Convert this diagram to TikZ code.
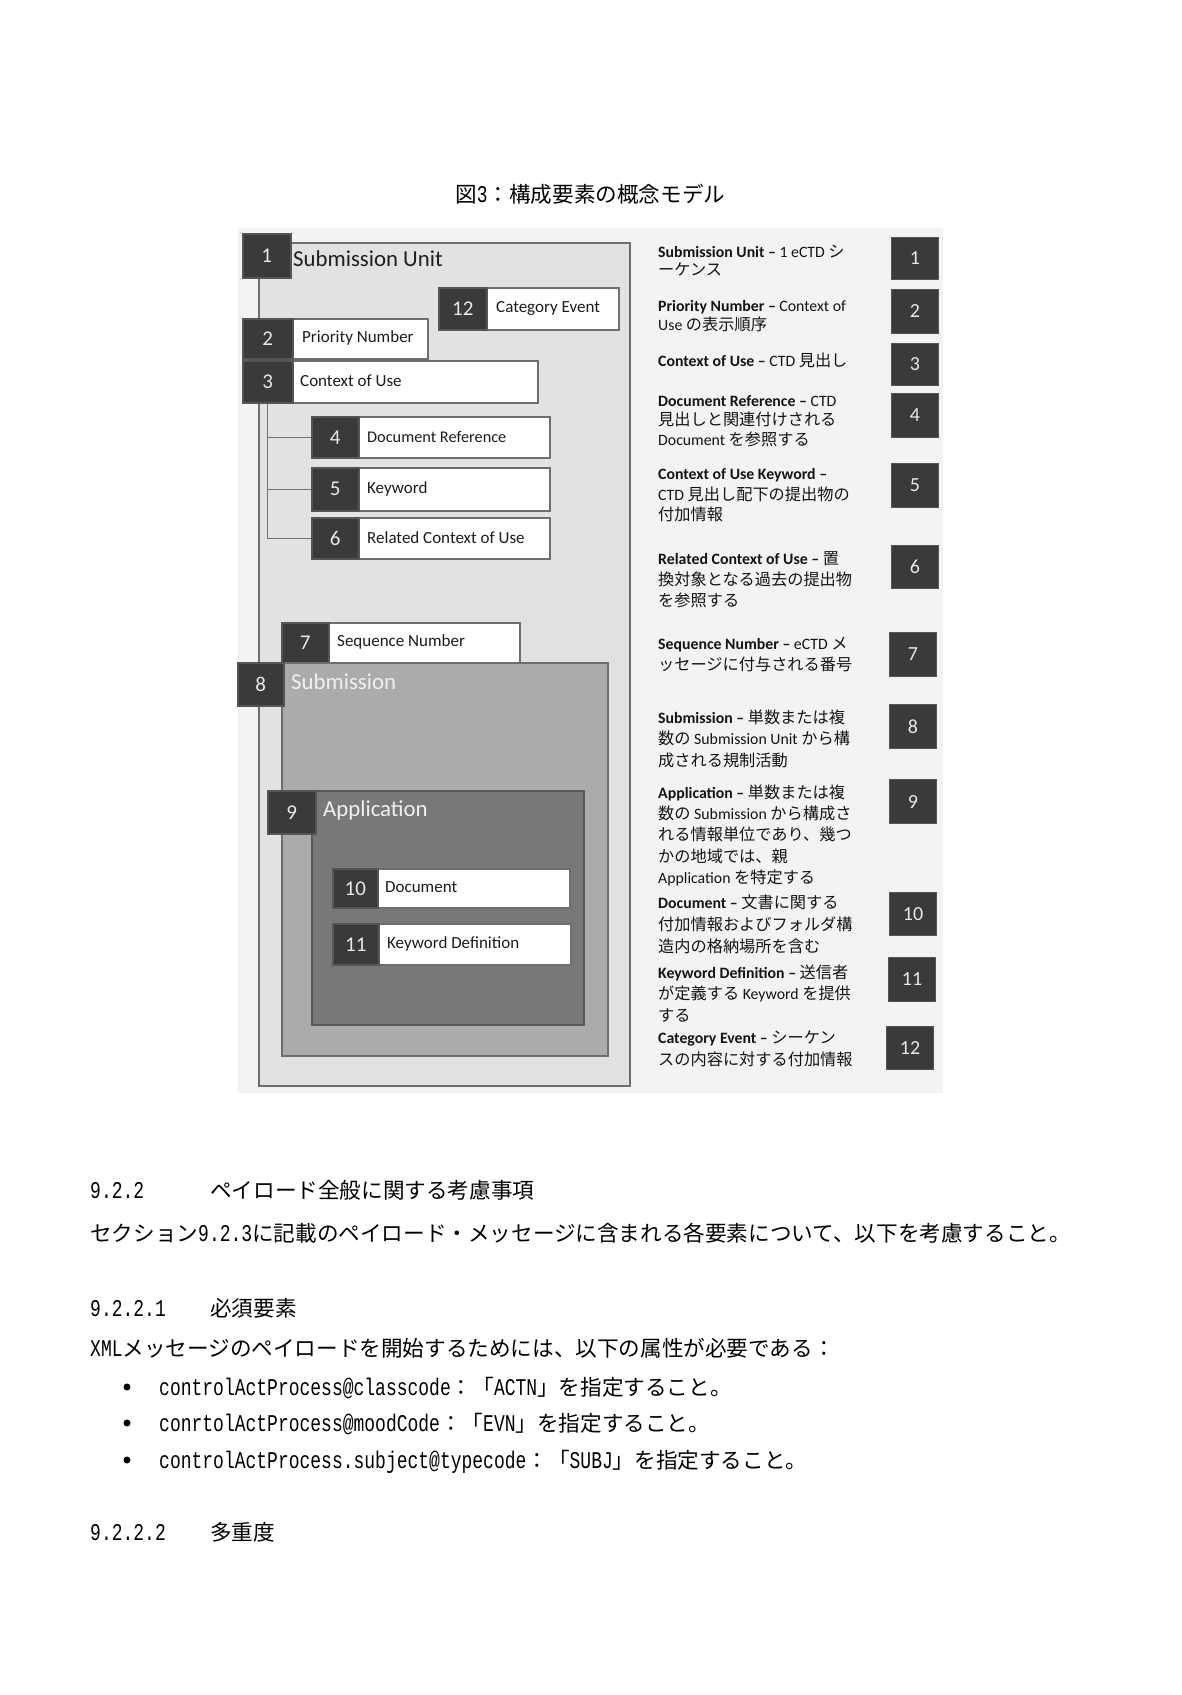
\documentclass[tikz,border=0pt]{standalone}
\usepackage{fontspec}
\setmainfont{Carlito}
\newfontfamily\jpf{Noto Sans CJK JP}
\newfontfamily\monof[FakeStretch=0.75]{Liberation Mono}
\newcommand\jx[1]{{\jpf\fontsize{16.2}{20}\selectfont #1}}
\newcommand\pj[1]{{\jpf\fontsize{21.6}{26}\selectfont #1}}
\newcommand\mn[1]{{\monof\fontsize{24}{26}\selectfont #1}}
\definecolor{figbg}{HTML}{F3F3F3}
\definecolor{sufill}{HTML}{E2E2E2}
\definecolor{subfill}{HTML}{ABABAB}
\definecolor{appfill}{HTML}{787878}
\definecolor{labdark}{HTML}{3A3A3A}
\definecolor{labedge}{HTML}{555555}
\definecolor{labtxt}{HTML}{E8E8E8}
\definecolor{boxedge}{HTML}{6E6E6E}
\definecolor{bartxt}{HTML}{1C1C1C}
\tikzset{
  area/.style={draw=boxedge, line width=2, anchor=north west, inner sep=0},
  bar/.style={fill=white, draw=boxedge, line width=2, anchor=north west, inner sep=0},
  lab/.style={fill=labdark, draw=labedge, line width=1.5, anchor=north west, inner sep=0, text=labtxt, font=\fontsize{21}{21}\selectfont},
  bt/.style={anchor=west, inner sep=0, text=bartxt, font=\fontsize{17}{17}\selectfont},
  big/.style={anchor=west, inner sep=0, font=\fontsize{22.8}{23}\selectfont},
  rt/.style={anchor=base west, inner sep=0, text=black!92, font=\fontsize{15.8}{19}\selectfont},
  rn/.style={fill=labdark, draw=labedge, line width=1, text=labtxt, inner sep=0, minimum width=47, anchor=north west, font=\fontsize{20}{20}\selectfont},
  pg/.style={anchor=base west, inner sep=0, text=black},
  tree/.style={draw=black!55, line width=1},
  dot/.style={circle, fill=black, inner sep=0, minimum size=7}
}
\begin{document}
\begin{tikzpicture}[x=1pt,y=-1pt]
\useasboundingbox (0,0) rectangle (1181,1695);
\fill[white] (0,0) rectangle (1181,1695);
% caption
\node[pg] (cap) at (455,202) {\pj{図}\mn{3}\pj{：構成要素の概念モデル}};
% figure background
\fill[figbg] (238,228) rectangle (943,1093);
% Submission Unit
\node[area, fill=sufill, minimum width=371, minimum height=843] (su) at (258,242) {};
\node[lab, minimum width=48, minimum height=44] (n1) at (242,233) {1};
\node[big, text=black!88] (t1) at (293,259) {Submission Unit};
% 12
\node[bar, minimum width=180, minimum height=42] (b12) at (438,287) {};
\node[lab, minimum width=48, minimum height=42] (n12) at (438,287) {12};
\node[bt] (t12) at (496,308) {Category Event};
% 2
\node[bar, minimum width=185, minimum height=40] (b2) at (242,318) {};
\node[lab, minimum width=50, minimum height=40] (n2) at (242,318) {2};
\node[bt] (t2) at (302,338) {Priority Number};
% 3
\node[bar, minimum width=295, minimum height=42] (b3) at (242,360) {};
\node[lab, minimum width=50, minimum height=42] (n3) at (242,360) {3};
\node[bt] (t3) at (300,381) {Context of Use};
% 4-6
\node[bar, minimum width=238, minimum height=41] (b4) at (311,416) {};
\node[lab, minimum width=47, minimum height=41] (n4) at (311,416) {4};
\node[bt, font=\fontsize{16.3}{17}\selectfont] (t4) at (367,436.5) {Document Reference};
\node[bar, minimum width=238, minimum height=43] (b5) at (311,467) {};
\node[lab, minimum width=47, minimum height=43] (n5) at (311,467) {5};
\node[bt] (t5) at (367,488.5) {Keyword};
\node[bar, minimum width=238, minimum height=41] (b6) at (311,517) {};
\node[lab, minimum width=47, minimum height=41] (n6) at (311,517) {6};
\node[bt] (t6) at (367,537.5) {Related Context of Use};
\draw[tree] (n3.south) |- (n4.west);
\draw[tree] (n3.south) |- (n5.west);
\draw[tree] (n3.south) |- (n6.west);
% 7
\node[bar, minimum width=238, minimum height=40] (b7) at (281,622) {};
\node[lab, minimum width=47, minimum height=40] (n7) at (281,622) {7};
\node[bt] (t7) at (337,642) {Sequence Number};
% 8 Submission
\node[area, fill=subfill, minimum width=326, minimum height=393] (sub) at (281,662) {};
\node[lab, minimum width=46, minimum height=43] (n8) at (237,662) {8};
\node[big, text=white!94!black] (t8) at (291,682) {Submission};
% 9 Application
\node[area, fill=appfill, draw=black!65, minimum width=272, minimum height=234] (app) at (311,790) {};
\node[lab, minimum width=48, minimum height=43] (n9) at (267,790) {9};
\node[big, text=white!94!black] (t9) at (323,810) {Application};
% 10, 11
\node[bar, minimum width=237, minimum height=39] (b10) at (332,868) {};
\node[lab, minimum width=45, minimum height=39] (n10) at (332,868) {10};
\node[bt] (t10) at (385,887.5) {Document};
\node[bar, minimum width=238, minimum height=41] (b11) at (332,923) {};
\node[lab, minimum width=46, minimum height=41] (n11) at (332,923) {11};
\node[bt] (t11) at (387,943.5) {Keyword Definition};
% right column
\node[rt] (r1a) at (658,257) {\textbf{Submission Unit –} 1 eCTD \jx{シ}};
\node[rt] (r1b) at (658,275) {\jx{ーケンス}};
\node[rt] (r2a) at (658,311) {\textbf{Priority Number –} Context of};
\node[rt] (r2b) at (658,330) {Use \jx{の表示順序}};
\node[rt] (r3a) at (658,366) {\textbf{Context of Use –} CTD \jx{見出し}};
\node[rt] (r4a) at (658,406) {\textbf{Document Reference –} CTD};
\node[rt] (r4b) at (658,425) {\jx{見出しと関連付けされる}};
\node[rt] (r4c) at (658,445) {Document \jx{を参照する}};
\node[rt] (r5a) at (658,479) {\textbf{Context of Use Keyword –}};
\node[rt] (r5b) at (658,500) {CTD \jx{見出し配下の提出物の}};
\node[rt] (r5c) at (658,520) {\jx{付加情報}};
\node[rt] (r6a) at (658,564) {\textbf{Related Context of Use –} \jx{置}};
\node[rt] (r6b) at (658,585) {\jx{換対象となる過去の提出物}};
\node[rt] (r6c) at (658,606) {\jx{を参照する}};
\node[rt] (r7a) at (658,649) {\textbf{Sequence Number –} eCTD \jx{メ}};
\node[rt] (r7b) at (658,670) {\jx{ッセージに付与される番号}};
\node[rt] (r8a) at (658,723) {\textbf{Submission –} \jx{単数または複}};
\node[rt] (r8b) at (658,744) {\jx{数の} Submission Unit \jx{から構}};
\node[rt] (r8c) at (658,766) {\jx{成される規制活動}};
\node[rt] (r9a) at (658,798) {\textbf{Application –} \jx{単数または複}};
\node[rt] (r9b) at (658,819) {\jx{数の} Submission \jx{から構成さ}};
\node[rt] (r9c) at (658,840) {\jx{れる情報単位であり、幾つ}};
\node[rt] (r9d) at (658,862) {\jx{かの地域では、親}};
\node[rt] (r9e) at (658,883) {Application \jx{を特定する}};
\node[rt] (r10a) at (658,908) {\textbf{Document –} \jx{文書に関する}};
\node[rt] (r10b) at (658,930) {\jx{付加情報およびフォルダ構}};
\node[rt] (r10c) at (658,952) {\jx{造内の格納場所を含む}};
\node[rt] (r11a) at (658,978) {\textbf{Keyword Definition –} \jx{送信者}};
\node[rt] (r11b) at (658,999) {\jx{が定義する} Keyword \jx{を提供}};
\node[rt] (r11c) at (658,1021) {\jx{する}};
\node[rt] (r12a) at (658,1043) {\textbf{Category Event –} \jx{シーケン}};
\node[rt] (r12b) at (658,1065) {\jx{スの内容に対する付加情報}};
% right number boxes
\node[rn, minimum height=42] (q1) at (891,237) {1};
\node[rn, minimum height=44] (q2) at (891,289) {2};
\node[rn, minimum height=42] (q3) at (891,343) {3};
\node[rn, minimum height=44] (q4) at (891,393) {4};
\node[rn, minimum height=44] (q5) at (891,463) {5};
\node[rn, minimum height=43] (q6) at (891,545) {6};
\node[rn, minimum height=44] (q7) at (889,632) {7};
\node[rn, minimum height=44] (q8) at (889,704) {8};
\node[rn, minimum height=44] (q9) at (889,779) {9};
\node[rn, minimum height=43] (q10) at (889,892) {10};
\node[rn, minimum height=44] (q11) at (888,957) {11};
\node[rn, minimum height=43] (q12) at (886,1026) {12};
% page text
\node[pg] (h1n) at (90,1198) {\mn{9.2.2}};
\node[pg] (h1t) at (210,1198) {\pj{ペイロード全般に関する考慮事項}};
\node[pg] (p1) at (90,1241) {\pj{セクション}\mn{9.2.3}\pj{に記載のペイロード・メッセージに含まれる各要素について、以下を考慮すること。}};
\node[pg] (h2n) at (90,1316) {\mn{9.2.2.1}};
\node[pg] (h2t) at (210,1316) {\pj{必須要素}};
\node[pg] (p2) at (90,1356) {\mn{XML}\pj{メッセージのペイロードを開始するためには、以下の属性が必要である：}};
\node[dot] (d1) at (127,1387) {};
\node[pg] (l1) at (159,1395) {\mn{controlActProcess@classcode}\pj{：「}\mn{ACTN}\pj{」を指定すること。}};
\node[dot] (d2) at (127,1423) {};
\node[pg] (l2) at (159,1431) {\mn{conrtolActProcess@moodCode}\pj{：「}\mn{EVN}\pj{」を指定すること。}};
\node[dot] (d3) at (127,1460) {};
\node[pg] (l3) at (159,1468) {\mn{controlActProcess.subject@typecode}\pj{：「}\mn{SUBJ}\pj{」を指定すること。}};
\node[pg] (h3n) at (90,1540) {\mn{9.2.2.2}};
\node[pg] (h3t) at (210,1540) {\pj{多重度}};
\end{tikzpicture}
\end{document}
